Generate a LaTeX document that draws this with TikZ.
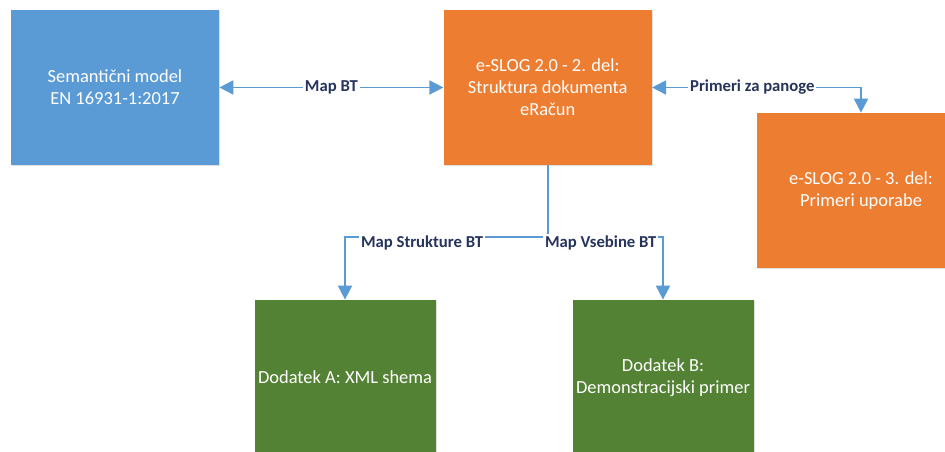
\documentclass[tikz,border=0pt]{standalone}
\usepackage{fontspec}
\setmainfont{Carlito}
\usetikzlibrary{arrows.meta}
\usetikzlibrary{positioning}
\usetikzlibrary{shadows}
\definecolor{boxblue}{RGB}{91,155,213}
\definecolor{boxorange}{RGB}{237,125,49}
\definecolor{boxgreen}{RGB}{84,130,53}
\definecolor{labelnavy}{RGB}{38,52,92}
\tikzstyle{block} = [rectangle, text=white, align=center, minimum width=4.16cm,
    minimum height=3.1cm, inner sep=2pt, font=\fontsize{10.5}{12.5}\selectfont,
    drop shadow={opacity=.25, shadow xshift=.6pt, shadow yshift=-.8pt}]
\tikzstyle{bluebox} = [block, fill=boxblue]
\tikzstyle{orangebox} = [block, fill=boxorange]
\tikzstyle{greenbox} = [block, fill=boxgreen, minimum width=3.62cm]
\tikzstyle{edge} = [draw, boxblue, line width=1.1pt]
\tikzstyle{line} = [edge, -{Triangle[length=8pt,width=8pt]}]
\tikzstyle{biline} = [edge, {Triangle[length=8pt,width=8pt]}-{Triangle[length=8pt,width=8pt]}]
\tikzstyle{maplabel} = [fill=white, text=labelnavy, inner sep=1pt,
    font=\fontsize{9.5}{11}\selectfont\bfseries]

\begin{document}
\begin{tikzpicture}
  \clip (0,0) rectangle (18.9,9.04);
  % Place nodes
  \node [bluebox] (sem) at (2.30,7.29) {Semantični model\\EN 16931-1:2017};
  \node [orangebox, right=4.48cm of sem] (slog2) {e-SLOG 2.0 - 2. del:\\Struktura dokumenta\\eRačun};
  \node [orangebox] (slog3) at (17.22,5.23) {e-SLOG 2.0 - 3. del:\\Primeri uporabe};
  \node [greenbox] (dodA) at (6.90,1.49) {Dodatek A: XML shema};
  \node [greenbox] (dodB) at (13.26,1.49) {Dodatek B:\\Demonstracijski primer};
  \coordinate [below=1.44cm of slog2.south] (split);

  \path [biline] (sem) -- node [maplabel] {Map BT} (slog2);
  \path [biline] (slog2.east) -| node [maplabel, pos=.24] {Primeri za panoge} (slog3.north);

  \path [edge] (slog2.south) -- (split);
  \path [line] (split) -| node [maplabel, pos=.31, yshift=-.12cm] {Map Strukture BT} (dodA.north);
  \path [line] (split) -| node [maplabel, pos=.23, yshift=-.12cm] {Map Vsebine BT} (dodB.north);
\end{tikzpicture}
\end{document}
